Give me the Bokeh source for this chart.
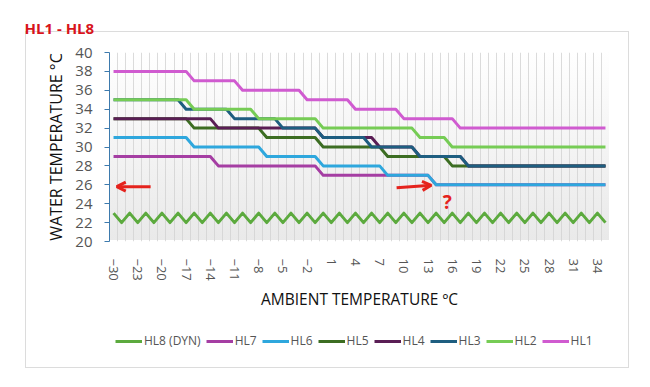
from bokeh.plotting import figure
from bokeh.layouts import column
from bokeh.models import Range1d, FixedTicker, Legend, LegendItem, Label, Arrow, OpenHead
from bokeh.embed import file_html
from bokeh.resources import INLINE

# ---------------- data ----------------
ambient = [-30, -25, -24, -23, -22, -21, -20, -19, -18, -17, -16, -15, -14, -13, -12,
           -11, -10, -9, -8, -7, -6, -5, -4, -3, -2, -1, 0, 1, 2, 3, 4, 5, 6, 7, 8,
           9, 10, 11, 12, 13, 14, 15, 16, 17, 18, 19, 20, 21, 22, 23, 24, 25, 26, 27,
           28, 29, 30, 31, 32, 33, 34, 35]
label_every = 3

hl8 = [23, 22, 23, 22, 23, 22, 23, 22, 23, 22, 23, 22, 23, 22, 23, 22, 23, 22, 23, 22,
       23, 22, 23, 22, 23, 22, 23, 22, 23, 22, 23, 22, 23, 22, 23, 22, 23, 22, 23, 22,
       23, 22, 23, 22, 23, 22, 23, 22, 23, 22, 23, 22, 23, 22, 23, 22, 23, 22, 23, 22,
       23, 22]
hl7 = [29, 29, 29, 29, 29, 29, 29, 29, 29, 29, 29, 29, 29,
       28, 28, 28, 28, 28, 28, 28, 28, 28, 28, 28, 28, 28,
       27, 27, 27, 27, 27, 27, 27, 27, 27, 27, 27, 27, 27, 27,
       26, 26, 26, 26, 26, 26, 26, 26, 26, 26, 26, 26, 26, 26, 26, 26, 26, 26, 26, 26, 26, 26]
hl6 = [31, 31, 31, 31, 31, 31, 31, 31, 31, 31,
       30, 30, 30, 30, 30, 30, 30, 30, 30,
       29, 29, 29, 29, 29, 29, 29,
       28, 28, 28, 28, 28, 28, 28, 28,
       27, 27, 27, 27, 27, 27,
       26, 26, 26, 26, 26, 26, 26, 26, 26, 26, 26, 26, 26, 26, 26, 26, 26, 26, 26, 26, 26, 26]
hl5 = [33, 33, 33, 33, 33, 33, 33, 33, 33, 33,
       32, 32, 32, 32, 32, 32, 32, 32, 32,
       31, 31, 31, 31, 31, 31, 31,
       30, 30, 30, 30, 30, 30, 30, 30,
       29, 29, 29, 29, 29, 29, 29, 29,
       28, 28, 28, 28, 28, 28, 28, 28, 28, 28, 28, 28, 28, 28, 28, 28, 28, 28, 28, 28]
hl4 = [33, 33, 33, 33, 33, 33, 33, 33, 33, 33, 33, 33, 33,
       32, 32, 32, 32, 32, 32, 32, 32, 32, 32, 32, 32, 32,
       31, 31, 31, 31, 31, 31, 31,
       30, 30, 30, 30, 30,
       29, 29, 29, 29, 29, 29,
       28, 28, 28, 28, 28, 28, 28, 28, 28, 28, 28, 28, 28, 28, 28, 28, 28, 28]
hl3 = [35, 35, 35, 35, 35, 35, 35, 35, 35,
       34, 34, 34, 34, 34, 34,
       33, 33, 33, 33, 33, 33,
       32, 32, 32, 32, 32,
       31, 31, 31, 31, 31, 31,
       30, 30, 30, 30, 30, 30,
       29, 29, 29, 29, 29, 29,
       28, 28, 28, 28, 28, 28, 28, 28, 28, 28, 28, 28, 28, 28, 28, 28, 28, 28]
hl2 = [35, 35, 35, 35, 35, 35, 35, 35, 35, 35,
       34, 34, 34, 34, 34, 34, 34, 34,
       33, 33, 33, 33, 33, 33, 33, 33,
       32, 32, 32, 32, 32, 32, 32, 32, 32, 32, 32, 32,
       31, 31, 31, 31,
       30, 30, 30, 30, 30, 30, 30, 30, 30, 30, 30, 30, 30, 30, 30, 30, 30, 30, 30, 30]
hl1 = [38, 38, 38, 38, 38, 38, 38, 38, 38, 38,
       37, 37, 37, 37, 37, 37,
       36, 36, 36, 36, 36, 36, 36, 36,
       35, 35, 35, 35, 35, 35,
       34, 34, 34, 34, 34, 34,
       33, 33, 33, 33, 33, 33, 33,
       32, 32, 32, 32, 32, 32, 32, 32, 32, 32, 32, 32, 32, 32, 32, 32, 32, 32, 32]

series_names = ["HL8 (DYN)", "HL7", "HL6", "HL5", "HL4", "HL3", "HL2", "HL1"]
series_values = [hl8, hl7, hl6, hl5, hl4, hl3, hl2, hl1]
series_colors = ["#5caa3e", "#a53ea3", "#2ea7dd", "#3c6d22", "#5a1e55", "#1e5e80",
                 "#76cc55", "#d05bd0"]

y_ticks = [20, 22, 24, 26, 28, 30, 32, 34, 36, 38, 40]

for s in series_values:
    assert len(s) == len(ambient), len(s)

FONT = "Open Sans"
CARD = "#dcdcdc"
xs = list(range(len(ambient)))

# ---------------- main chart ----------------
p = figure(frame_width=500, frame_height=189, output_backend="svg", toolbar_location=None,
           x_range=Range1d(-0.5, len(ambient) - 0.5), y_range=Range1d(y_ticks[0], y_ticks[-1]),
           min_border_left=109, min_border_right=23, min_border_top=51, min_border_bottom=80)
p.outline_line_color = None
p.background_fill_alpha = 0
p.border_fill_alpha = 0

line_img = f"linear-gradient({CARD},{CARD})"
p.styles = {
    "background-image": ", ".join([line_img] * 3 +
                                  ["linear-gradient(to bottom, #ffffff 0%, #e9e9e9 100%)"]),
    "background-size": "604px 1px, 1px 400px, 1px 400px, 500px 189px",
    "background-position": "25px 31px, 25px 31px, 628px 31px, 109px 51px",
    "background-repeat": "no-repeat",
    "background-color": "white",
}

# title
p.title.text = "HL1 - HL8"
p.title.align = "left"
p.title.offset = -85
p.title.standoff = 30
p.title.text_font = FONT
p.title.text_font_style = "bold"
p.title.text_font_size = "15px"
p.title.text_color = "#d8141b"

# grid: vertical lines between categories
p.xgrid.ticker = FixedTicker(ticks=[i - 0.5 for i in range(len(ambient) + 1)])
p.xgrid.grid_line_color = "#d2d2d2"
p.xgrid.grid_line_alpha = 0.8
p.ygrid.visible = False

# x axis
xa = p.xaxis[0]
xa.ticker = FixedTicker(ticks=xs[::label_every])
xa.major_label_overrides = {i: str(ambient[i]).replace("-", "\u2212") for i in xs[::label_every]}
xa.major_label_orientation = "vertical"
xa.axis_line_color = None
xa.major_tick_line_color = None
xa.minor_tick_line_color = None
xa.major_label_standoff = 11
xa.major_label_text_font = FONT
xa.major_label_text_font_size = "13px"
xa.major_label_text_color = "#555555"
xa.axis_label = "AMBIENT TEMPERATURE \u00baC"
xa.axis_label_text_font = FONT
xa.axis_label_text_font_style = "normal"
xa.axis_label_text_font_size = "15.5px"
xa.axis_label_text_color = "#111111"
xa.axis_label_standoff = 4

# y axis
ya = p.yaxis[0]
ya.ticker = FixedTicker(ticks=y_ticks)
ya.axis_line_color = "#3d7aad"
ya.major_tick_line_color = "#3d7aad"
ya.major_tick_out = 5
ya.major_tick_in = 0
ya.minor_tick_line_color = None
ya.major_label_standoff = 12
ya.major_label_text_font = FONT
ya.major_label_text_font_size = "15px"
ya.major_label_text_color = "#555555"
ya.axis_label = "WATER TEMPERATURE \u00b0C"
ya.axis_label_text_font = FONT
ya.axis_label_text_font_style = "normal"
ya.axis_label_text_font_size = "16px"
ya.axis_label_text_color = "#111111"
ya.axis_label_standoff = 5

for name, vals, col in zip(series_names, series_values, series_colors):
    p.line(xs, vals, line_color=col, line_width=3, line_join="round")

# hand-drawn red annotations
red = "#e5231d"
p.add_layout(Arrow(x_start=4.6, y_start=25.8, x_end=0.4, y_end=25.8, line_color=red,
                   line_width=3, end=OpenHead(size=9, line_color=red, line_width=3)))
p.add_layout(Arrow(x_start=35.1, y_start=25.7, x_end=39.4, y_end=25.95, line_color=red,
                   line_width=3, end=OpenHead(size=9, line_color=red, line_width=3)))
p.add_layout(Label(x=41.4, y=24.2, text="?", text_color=red, text_font=FONT,
                   text_font_style="bold", text_font_size="19px", text_align="center",
                   text_baseline="middle"))

# ---------------- legend strip (inside the same card) ----------------
q = figure(width=632, height=50, output_backend="svg", toolbar_location=None,
           x_range=Range1d(0, 1), y_range=Range1d(0, 1),
           x_axis_location=None, y_axis_location=None,
           min_border_left=0, min_border_right=0, min_border_top=0, min_border_bottom=0)
q.outline_line_color = None
q.background_fill_alpha = 0
q.border_fill_alpha = 0
q.xgrid.visible = False
q.ygrid.visible = False
q.styles = {
    "background-image": ", ".join([line_img] * 3),
    "background-size": "604px 1px, 1px 47px, 1px 47px",
    "background-position": "25px 46px, 25px 0px, 628px 0px",
    "background-repeat": "no-repeat",
    "background-color": "white",
}

# the strip's ranges are 0..1, so these copies of the series stay out of view;
# they only supply the legend swatches
items = []
for name, vals, col in zip(series_names, series_values, series_colors):
    r = q.line(xs, vals, line_color=col, line_width=3)
    items.append(LegendItem(label=name, renderers=[r]))

legend = Legend(items=items, orientation="horizontal", location=(6, 22),
                glyph_width=27, glyph_height=12, label_standoff=2, spacing=5,
                padding=0, margin=0, border_line_color=None, background_fill_alpha=0,
                label_text_font=FONT, label_text_font_size="12px",
                label_text_color="#555555", label_height=16)
q.add_layout(legend, "center")

layout = column(p, q, spacing=0)
open("out.html", "w").write(file_html(layout, INLINE))
